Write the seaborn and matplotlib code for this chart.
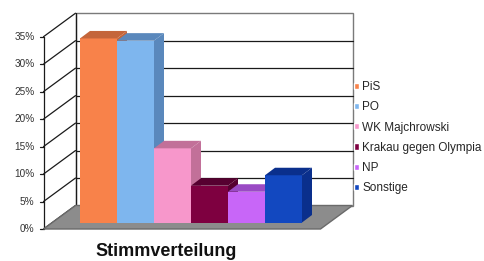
import matplotlib
matplotlib.use("Agg")
import matplotlib.pyplot as plt
import seaborn as sns
import pandas as pd
from matplotlib.patches import Polygon

# =====================================
# DATA
# =====================================

parties = ["PiS", "PO", "WK Majchrowski", "Krakau gegen Olympia", "NP", "Sonstige"]
shares = [33.5, 33.1, 13.5, 6.7, 5.6, 8.6]
y_ticks = [0, 5, 10, 15, 20, 25, 30, 35]

front_colors = ["#F8824A", "#7EB6EE", "#F797CB", "#7E0040", "#C866F8", "#1248C0"]
dark_colors = ["#C4653A", "#5A88BC", "#C27099", "#560030", "#9A4AC4", "#0A2F8C"]

df = pd.DataFrame({"Partei": parties, "Anteil": shares})

# =====================================
# GEOMETRY (pixels -> data units)
# =====================================

PX_X = 37.0   # pixels per category
PX_Y = 5.494  # pixels per percent
W, H = 484, 261


def shift(x, y, dx, dy):
    return (x + dx / PX_X, y + dy / PX_Y)


FRONT = (-9, -6.5)   # floor front plane, relative to bar plane
BACK = (23, 17)      # back wall
BAR_D = (10, 7.5)    # bar depth

xa = -0.5 - 27.5 / PX_X
xb = len(parties) - 0.5 + 27.5 / PX_X
ytop = y_ticks[-1]

sns.set_style("white")
plt.rcParams["font.family"] = ["Liberation Sans", "DejaVu Sans"]

fig = plt.figure(figsize=(W / 100, H / 100), dpi=100)
ax = fig.add_axes([0, 0, 1, 1])

# =====================================
# BARS (front faces)
# =====================================

sns.barplot(
    data=df,
    x="Partei",
    y="Anteil",
    hue="Partei",
    palette=front_colors,
    width=1.0,
    saturation=1,
    legend=True,
    ax=ax,
    zorder=5,
)

bars = list(ax.patches)

# =====================================
# BOX: back wall, side wall, floor
# =====================================

back_wall = [shift(xa, 0, *BACK), shift(xb, 0, *BACK),
             shift(xb, ytop, *BACK), shift(xa, ytop, *BACK)]
ax.add_patch(Polygon(back_wall, closed=True, facecolor="white",
                     edgecolor="#7a7a7a", lw=1.0, zorder=1))

for v in y_ticks[1:-1]:
    p0 = shift(xa, v, *BACK)
    p1 = shift(xb, v, *BACK)
    ax.plot([p0[0], p1[0]], [p0[1], p1[1]], color="#1a1a1a", lw=0.9, zorder=2)

for v in y_ticks:
    p0 = shift(xa, v, *FRONT)
    p1 = shift(xa, v, *BACK)
    ax.plot([p0[0], p1[0]], [p0[1], p1[1]], color="#1a1a1a", lw=0.9, zorder=2)
    t0 = shift(xa, v, FRONT[0] - 4, FRONT[1])
    ax.plot([t0[0], p0[0]], [t0[1], p0[1]], color="#1a1a1a", lw=0.9, zorder=2)
    lab = shift(xa, v, FRONT[0] - 9, FRONT[1])
    ax.text(lab[0], lab[1], f"{v}%", ha="right", va="center",
            fontsize=7.2, color="#333333")

for off in (FRONT, BACK):
    p0 = shift(xa, 0, *off)
    p1 = shift(xa, ytop, *off)
    ax.plot([p0[0], p1[0]], [p0[1], p1[1]], color="#1a1a1a", lw=0.9, zorder=2)

floor = [shift(xa, 0, *FRONT), shift(xb, 0, *FRONT),
         shift(xb, 0, *BACK), shift(xa, 0, *BACK)]
ax.add_patch(Polygon(floor, closed=True, facecolor="#8c8c8c",
                     edgecolor="#6a6a6a", lw=1.0, zorder=3))

# =====================================
# BARS (top and side faces)
# =====================================

for i, bar in enumerate(bars[:len(parties)]):
    x0 = bar.get_x()
    x1 = x0 + bar.get_width()
    h = bar.get_height()
    z = 5 + i
    bar.set_zorder(z + 0.5)
    bar.set_edgecolor("none")
    top = [(x0, h), (x1, h), shift(x1, h, *BAR_D), shift(x0, h, *BAR_D)]
    side = [(x1, 0), (x1, h), shift(x1, h, *BAR_D), shift(x1, 0, *BAR_D)]
    ax.add_patch(Polygon(side, closed=True, facecolor=dark_colors[i],
                         edgecolor="none", zorder=z))
    ax.add_patch(Polygon(top, closed=True, facecolor=dark_colors[i],
                         edgecolor="none", zorder=z + 0.6))

# =====================================
# LAYOUT
# =====================================

ax.set_xlim(-0.5 - 80 / PX_X, -0.5 + (W - 80) / PX_X)
ax.set_ylim(-38.5 / PX_Y, (H - 38.5) / PX_Y)
ax.axis("off")

ax.legend(
    loc="upper left",
    bbox_to_anchor=(354 / W, 1 - 81 / H),
    bbox_transform=fig.transFigure,
    frameon=False,
    fontsize=8.5,
    handlelength=0.45,
    handleheight=0.45,
    handletextpad=0.25,
    labelspacing=0.70,
    borderpad=0,
    borderaxespad=0,
)

fig.text(166 / W, 1 - 256 / H, "Stimmverteilung", ha="center",
         va="baseline", fontsize=13, fontweight="bold", color="#111111")

fig.savefig("out.png", dpi=100)
